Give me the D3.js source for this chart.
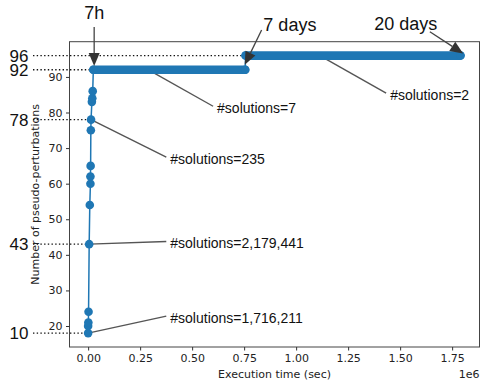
<!DOCTYPE html>
<html>
<head>
<meta charset="utf-8">
<script src="https://cdn.jsdelivr.net/npm/d3@7"></script>
<style>
  body { margin: 0; background: #fff; }
  svg { display: block; }
  .tick text { font-family: "DejaVu Sans", sans-serif; font-size: 11px; fill: #222; }
  .tick line { stroke: #333; }
</style>
</head>
<body>
<svg id="chart"></svg>
<script>
// Series: execution time (sec) vs number of pseudo-perturbations.
const timeSec = [0, 0, 1000, 2000, 5000, 8000, 11000, 11000, 12000, 13000, 14000, 18000, 20000, 22000, 25000, 755000, 757000, 1790000];
const perturbations = [18, 20, 21, 24, 43, 54, 60, 62, 65, 75, 78, 83, 84, 86, 92, 92, 96, 96];

const xTicks = [0, 250000, 500000, 750000, 1000000, 1250000, 1500000, 1750000];
const yTicks = [20, 30, 40, 50, 60, 70, 80, 90];

// Reference labels on the left, with the value they mark and where the dotted line stops.
const refLabels = ['96', '92', '78', '43', '10'];
const refValues = [96, 92, 78, 43, 18];
const refEnds = [757000, 25000, 14000, 5000, 0];

// "#solutions" callouts: point, text position (data units).
const solLabels = ['#solutions=7', '#solutions=2', '#solutions=235', '#solutions=2,179,441', '#solutions=1,716,211'];
const solPointX = [290000, 1114000, 14000, 5000, 0];
const solPointY = [92, 96, 78, 43, 18];
const solTextX = [620000, 1452000, 395000, 395000, 395000];
const solTextY = [81.2, 84.9, 66.9, 43.2, 22.2];

// Time-span arrows: label, text position, tail and tip (data units).
const spanLabels = ['7h', '7 days', '20 days'];
const spanTextX = [29000, 970000, 1527000];
const spanTextY = [106.2, 102.9, 103.1];
const spanTailX = [29000, 834000, 1643000];
const spanTailY = [104.0, 103.2, 102.7];
const spanTipX = [29000, 753000, 1803000];
const spanTipY = [93.1, 93.4, 96.6];

const width = 482;
const height = 381;
const margin = { left: 69.5, right: 2.5, top: 41.7, bottom: 34 };

const svg = d3.select('#chart')
  .attr('width', width)
  .attr('height', height)
  .attr('viewBox', `0 0 ${width} ${height}`);

const x = d3.scaleLinear()
  .domain([-89600, 1881600])
  .range([margin.left, width - margin.right]);

const y = d3.scaleLinear()
  .domain([14.1, 99.9])
  .range([height - margin.bottom, margin.top]);

const blue = '#1f77b4';
const r = 4.3;

// Dotted reference lines and big labels.
refLabels.forEach((label, i) => {
  svg.append('line')
    .attr('x1', 33)
    .attr('x2', x(refEnds[i]))
    .attr('y1', y(refValues[i]))
    .attr('y2', y(refValues[i]))
    .attr('stroke', '#111')
    .attr('stroke-width', 1.4)
    .attr('stroke-dasharray', '1.4,2.3');
  svg.append('text')
    .attr('x', 28.5)
    .attr('y', y(refValues[i]))
    .attr('dy', '0.36em')
    .attr('text-anchor', 'end')
    .style('font-family', '"Liberation Sans", Arial, sans-serif')
    .style('font-size', '17px')
    .attr('fill', '#111')
    .text(label);
});

// Frame.
svg.append('rect')
  .attr('x', margin.left)
  .attr('y', margin.top)
  .attr('width', width - margin.left - margin.right)
  .attr('height', height - margin.top - margin.bottom)
  .attr('fill', 'none')
  .attr('stroke', '#444')
  .attr('stroke-width', 1);

// Axes.
const xAxis = d3.axisBottom(x)
  .tickValues(xTicks)
  .tickFormat((d) => (d / 1e6).toFixed(2))
  .tickSize(3.5)
  .tickPadding(3.5);
svg.append('g')
  .attr('transform', `translate(0, ${height - margin.bottom})`)
  .call(xAxis)
  .call((g) => g.select('.domain').remove());

const yAxis = d3.axisLeft(y)
  .tickValues(yTicks)
  .tickSize(3.5)
  .tickPadding(3.5);
svg.append('g')
  .attr('transform', `translate(${margin.left}, 0)`)
  .call(yAxis)
  .call((g) => g.select('.domain').remove());

// Axis labels.
svg.append('text')
  .attr('x', (margin.left + width - margin.right) / 2)
  .attr('y', 378)
  .attr('text-anchor', 'middle')
  .style('font-family', '"DejaVu Sans", sans-serif')
  .style('font-size', '11px')
  .attr('fill', '#222')
  .text('Execution time (sec)');

svg.append('text')
  .attr('x', width - margin.right)
  .attr('y', 378)
  .attr('text-anchor', 'end')
  .style('font-family', '"DejaVu Sans", sans-serif')
  .style('font-size', '11px')
  .attr('fill', '#222')
  .text('1e6');

svg.append('text')
  .attr('transform', `translate(39, ${(margin.top + height - margin.bottom) / 2}) rotate(-90)`)
  .attr('text-anchor', 'middle')
  .style('font-family', '"DejaVu Sans", sans-serif')
  .style('font-size', '11px')
  .attr('fill', '#222')
  .text('Number of pseudo-perturbations');

// "#solutions" callout lines (under the markers).
solLabels.forEach((label, i) => {
  const tx = x(solTextX[i]);
  const ty = y(solTextY[i]);
  svg.append('line')
    .attr('x1', x(solPointX[i]))
    .attr('y1', y(solPointY[i]))
    .attr('x2', tx - 4)
    .attr('y2', ty - 2)
    .attr('stroke', '#555')
    .attr('stroke-width', 1.4);
  svg.append('text')
    .attr('x', tx)
    .attr('y', ty)
    .attr('dy', '0.36em')
    .style('font-family', '"Liberation Sans", Arial, sans-serif')
    .style('font-size', '14px')
    .attr('fill', '#111')
    .text(label);
});

// Data line.
const points = timeSec.map((t, i) => [t, perturbations[i]]);
const line = d3.line()
  .x((d) => x(d[0]))
  .y((d) => y(d[1]));

svg.append('path')
  .datum(points)
  .attr('d', line)
  .attr('fill', 'none')
  .attr('stroke', blue)
  .attr('stroke-width', 1.5);

// Plateaus of dense markers: consecutive points at the same value.
for (let i = 0; i < points.length - 1; i += 1) {
  if (points[i][1] === points[i + 1][1]) {
    svg.append('line')
      .attr('x1', x(points[i][0]))
      .attr('x2', x(points[i + 1][0]))
      .attr('y1', y(points[i][1]))
      .attr('y2', y(points[i][1]))
      .attr('stroke', blue)
      .attr('stroke-width', r * 2)
      .attr('stroke-linecap', 'round');
  }
}

svg.append('g')
  .selectAll('circle')
  .data(points)
  .join('circle')
  .attr('cx', (d) => x(d[0]))
  .attr('cy', (d) => y(d[1]))
  .attr('r', r)
  .attr('fill', blue);

// Time-span arrows.
spanLabels.forEach((label, i) => {
  const x0 = x(spanTailX[i]);
  const y0 = y(spanTailY[i]);
  const x1 = x(spanTipX[i]);
  const y1 = y(spanTipY[i]);
  const len = Math.hypot(x1 - x0, y1 - y0);
  const ux = (x1 - x0) / len;
  const uy = (y1 - y0) / len;
  const headLen = 13;
  const headW = 5.5;
  const bx = x1 - ux * headLen;
  const by = y1 - uy * headLen;

  svg.append('line')
    .attr('x1', x0)
    .attr('y1', y0)
    .attr('x2', bx)
    .attr('y2', by)
    .attr('stroke', '#444')
    .attr('stroke-width', 1.3);

  svg.append('path')
    .attr('d', `M${x1},${y1}L${bx - uy * headW},${by + ux * headW}L${bx + uy * headW},${by - ux * headW}Z`)
    .attr('fill', '#333');

  svg.append('text')
    .attr('x', x(spanTextX[i]))
    .attr('y', y(spanTextY[i]))
    .attr('text-anchor', 'middle')
    .style('font-family', '"Liberation Sans", Arial, sans-serif')
    .style('font-size', '18px')
    .attr('fill', '#111')
    .text(label);
});
</script>
</body>
</html>
